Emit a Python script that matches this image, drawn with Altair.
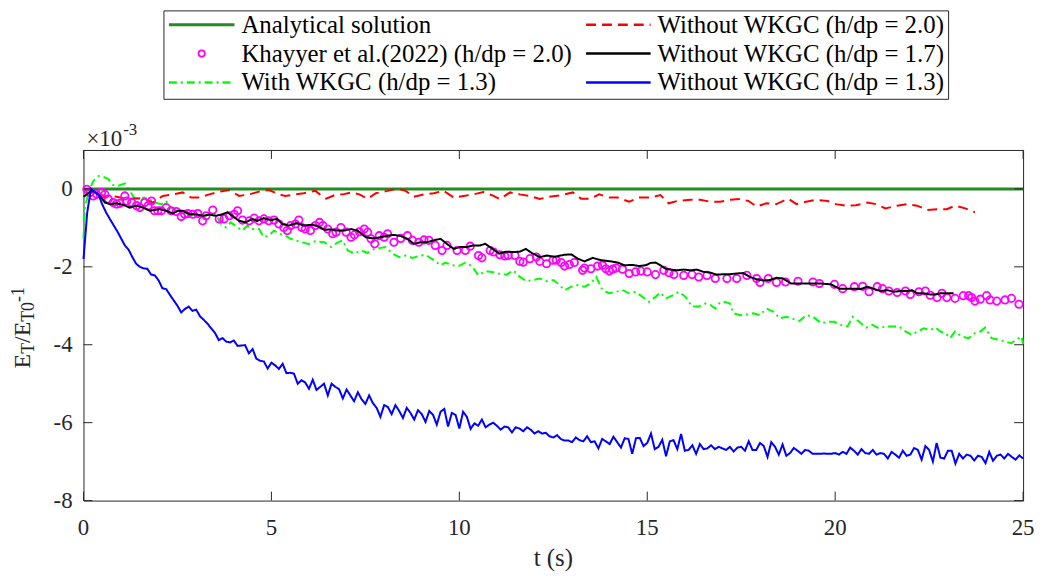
import altair as alt
import pandas as pd

# ---------------- series names ----------------
S_AN = "Analytical solution"
S_KH = "Khayyer et al.(2022) (h/dp = 2.0)"
S_W13 = "With WKGC (h/dp = 1.3)"
S_N20 = "Without WKGC (h/dp = 2.0)"
S_N17 = "Without WKGC (h/dp = 1.7)"
S_N13 = "Without WKGC (h/dp = 1.3)"

# legend is filled column by column (3 rows x 2 columns)
legend_order = [S_AN, S_KH, S_W13, S_N20, S_N17, S_N13]
legend_colors = ["#228B22", "#FF00FF", "#00FF00", "#FF0000", "#000000", "#0000FF"]
legend_dashes = [[1, 0], [1, 0], [8, 4, 2, 4], [10, 6], [1, 0], [1, 0]]
legend_shapes = ["stroke", "circle", "stroke", "stroke", "stroke", "stroke"]
legend_widths = [3, 1.8, 2.5, 2.5, 2.5, 2.5]

x_ticks = [0, 5, 10, 15, 20, 25]
y_ticks = [-8, -6, -4, -2, 0]
x_tick_labels = [str(v) for v in x_ticks]
y_tick_labels = [str(v) for v in y_ticks]

# ---------------- data (values x 1e-3) ----------------
analytical_t = [0.0, 25.0]
analytical_y = [0.0, 0.0]

black_t = [0.00, 0.09, 0.22, 0.31, 0.44, 0.57, 0.70, 0.88, 1.06, 1.23,
           1.41, 1.59, 1.76, 1.89, 2.03, 2.20, 2.38, 2.51, 2.64, 2.82,
           3.00, 3.17, 3.35, 3.52, 3.70, 3.83, 3.96, 4.14, 4.32, 4.49,
           4.63, 4.80, 4.98, 5.15, 5.29, 5.46, 5.68, 5.86, 6.08, 6.24,
           6.41, 6.59, 6.77, 6.94, 7.12, 7.29, 7.51, 7.69, 7.91, 8.09,
           8.26, 8.44, 8.62, 8.79, 8.97, 9.14, 9.32, 9.50, 9.67, 9.85,
           10.03, 10.20, 10.38, 10.55, 10.69, 10.86, 11.06, 11.26, 11.44, 11.61,
           11.77, 11.92, 12.14, 12.32, 12.54, 12.80, 12.98, 13.15, 13.33, 13.55,
           13.77, 14.03, 14.21, 14.39, 14.61, 14.78, 14.96, 15.09, 15.22, 15.35,
           15.49, 15.62, 15.80, 15.97, 16.15, 16.32, 16.50, 16.68, 16.85, 17.03,
           17.20, 17.38, 17.56, 17.73, 17.91, 18.09, 18.26, 18.44, 18.61, 18.83,
           19.10, 19.36, 19.63, 19.89, 20.11, 20.29, 20.51, 20.68, 20.86, 21.04,
           21.21, 21.39, 21.56, 21.74, 21.92, 22.05, 22.18, 22.36, 22.53, 22.67,
           22.80, 22.97, 23.15]
black_y = [-0.20, -0.14, -0.05, -0.08, -0.18, -0.35, -0.39, -0.37, -0.41, -0.48,
           -0.43, -0.48, -0.56, -0.54, -0.52, -0.56, -0.63, -0.56, -0.56, -0.65,
           -0.65, -0.69, -0.66, -0.69, -0.65, -0.60, -0.69, -0.82, -0.86, -0.77,
           -0.82, -0.75, -0.80, -0.77, -0.90, -0.94, -0.88, -0.94, -0.92, -0.96,
           -1.05, -1.04, -1.07, -1.07, -1.03, -1.07, -1.24, -1.27, -1.24, -1.20,
           -1.18, -1.21, -1.28, -1.41, -1.37, -1.37, -1.32, -1.28, -1.41, -1.54,
           -1.49, -1.49, -1.45, -1.45, -1.41, -1.52, -1.66, -1.61, -1.62, -1.61,
           -1.54, -1.64, -1.75, -1.71, -1.74, -1.69, -1.68, -1.79, -1.86, -1.77,
           -1.83, -1.86, -1.89, -1.96, -1.95, -1.98, -1.96, -1.90, -1.89, -1.96,
           -2.05, -2.07, -2.09, -2.07, -2.09, -2.07, -2.13, -2.15, -2.20, -2.19,
           -2.19, -2.17, -2.16, -2.26, -2.32, -2.35, -2.34, -2.28, -2.30, -2.43,
           -2.43, -2.43, -2.43, -2.45, -2.56, -2.56, -2.56, -2.57, -2.51, -2.57,
           -2.62, -2.60, -2.64, -2.62, -2.62, -2.60, -2.68, -2.68, -2.71, -2.71,
           -2.68, -2.68, -2.68]

khayyer_t = [0.09, 0.18, 0.26, 0.35, 0.48, 0.57, 0.66, 0.79, 0.88, 0.97,
             1.10, 1.15, 1.28, 1.41, 1.50, 1.63, 1.72, 1.81, 1.89, 1.98,
             2.07, 2.20, 2.33, 2.47, 2.60, 2.69, 2.78, 2.91, 3.04, 3.17,
             3.26, 3.44, 3.61, 3.74, 3.88, 4.01, 4.10, 4.23, 4.41, 4.54,
             4.67, 4.80, 4.93, 5.07, 5.20, 5.33, 5.42, 5.51, 5.64, 5.73,
             5.81, 5.90, 6.04, 6.17, 6.28, 6.37, 6.50, 6.63, 6.72, 6.85,
             6.99, 7.12, 7.21, 7.34, 7.47, 7.56, 7.65, 7.75, 7.87, 8.00,
             8.09, 8.26, 8.44, 8.62, 8.75, 8.92, 9.06, 9.19, 9.36, 9.54,
             9.67, 9.94, 10.16, 10.29, 10.51, 10.60, 10.82, 10.91, 11.08, 11.21,
             11.30, 11.48, 11.61, 11.70, 11.88, 12.05, 12.14, 12.32, 12.49, 12.58,
             12.71, 12.80, 12.93, 13.06, 13.28, 13.33, 13.50, 13.68, 13.81, 13.90,
             13.99, 14.08, 14.17, 14.34, 14.52, 14.69, 14.83, 15.00, 15.22, 15.44,
             15.58, 15.71, 15.97, 16.19, 16.37, 16.59, 16.81, 17.12, 17.38, 17.65,
             17.91, 18.00, 18.22, 18.44, 18.68, 19.01, 19.41, 19.58, 19.98, 20.20,
             20.51, 20.73, 20.90, 21.12, 21.26, 21.43, 21.65, 21.87, 22.00, 22.23,
             22.40, 22.53, 22.71, 22.84, 22.97, 23.19, 23.41, 23.55, 23.63, 23.72,
             23.86, 24.03, 24.12, 24.30, 24.52, 24.69, 24.89]
khayyer_y = [-0.01, -0.09, -0.18, -0.14, -0.09, -0.14, -0.26, -0.35, -0.39, -0.37,
             -0.18, -0.31, -0.35, -0.43, -0.48, -0.35, -0.43, -0.31, -0.56, -0.56,
             -0.56, -0.48, -0.56, -0.58, -0.71, -0.65, -0.63, -0.65, -0.63, -0.82,
             -0.69, -0.54, -0.77, -0.77, -0.69, -0.65, -0.56, -0.80, -0.82, -0.75,
             -0.82, -0.77, -0.82, -0.80, -0.90, -0.99, -1.07, -0.94, -0.90, -0.80,
             -0.99, -1.03, -1.07, -0.94, -0.86, -0.94, -1.03, -1.15, -1.11, -0.99,
             -1.11, -1.24, -1.18, -1.10, -1.03, -1.11, -1.28, -1.41, -1.20, -1.24,
             -1.15, -1.37, -1.27, -1.20, -1.32, -1.37, -1.31, -1.32, -1.45, -1.58,
             -1.45, -1.58, -1.58, -1.47, -1.71, -1.77, -1.58, -1.62, -1.69, -1.72,
             -1.71, -1.71, -1.86, -1.88, -1.79, -1.75, -1.86, -1.92, -1.83, -1.83,
             -1.89, -1.98, -1.94, -1.89, -2.09, -2.03, -2.05, -1.98, -1.96, -2.05,
             -2.11, -2.06, -2.03, -2.06, -2.17, -2.13, -2.11, -2.13, -2.20, -2.09,
             -2.15, -2.20, -2.22, -2.20, -2.26, -2.22, -2.30, -2.30, -2.30, -2.22,
             -2.30, -2.40, -2.30, -2.40, -2.39, -2.37, -2.39, -2.43, -2.45, -2.56,
             -2.51, -2.50, -2.64, -2.51, -2.56, -2.62, -2.66, -2.62, -2.71, -2.64,
             -2.62, -2.73, -2.79, -2.68, -2.79, -2.81, -2.74, -2.74, -2.79, -2.88,
             -2.83, -2.74, -2.85, -2.88, -2.85, -2.81, -2.96]

red_t = [0.04, 0.18, 0.53, 0.88, 1.15, 1.41, 1.63, 1.85, 2.11, 2.38,
         2.64, 2.86, 3.08, 3.35, 3.61, 3.88, 4.14, 4.41, 4.67, 4.93,
         5.20, 5.37, 5.64, 5.86, 6.17, 6.34, 6.46, 6.68, 6.90, 7.12,
         7.34, 7.56, 7.78, 8.09, 8.35, 8.57, 8.79, 9.06, 9.32, 9.58,
         9.85, 10.11, 10.38, 10.64, 10.91, 11.08, 11.35, 11.61, 11.88, 12.14,
         12.40, 12.71, 13.02, 13.24, 13.50, 13.72, 13.99, 14.21, 14.52, 14.78,
         15.09, 15.35, 15.57, 15.80, 16.15, 16.41, 16.68, 16.94, 17.20, 17.47,
         17.69, 17.91, 18.17, 18.44, 18.75, 18.97, 19.23, 19.49, 19.80, 20.02,
         20.29, 20.55, 20.86, 21.08, 21.34, 21.65, 21.92, 22.18, 22.45, 22.71,
         22.97, 23.19, 23.46, 23.72]
red_y = [-0.05, 0.00, -0.18, -0.20, -0.26, -0.24, -0.26, -0.35, -0.18, -0.14,
         -0.09, -0.22, -0.22, -0.14, -0.07, -0.03, -0.18, -0.14, -0.07, -0.03,
         -0.14, -0.18, -0.14, -0.11, -0.05, -0.18, -0.25, -0.16, -0.14, -0.09,
         -0.14, -0.25, -0.11, -0.05, 0.01, -0.05, -0.20, -0.14, -0.11, -0.05,
         -0.22, -0.18, -0.14, -0.08, -0.18, -0.26, -0.09, -0.14, -0.18, -0.26,
         -0.20, -0.16, -0.09, -0.25, -0.25, -0.14, -0.22, -0.22, -0.33, -0.22,
         -0.22, -0.16, -0.37, -0.31, -0.28, -0.28, -0.33, -0.33, -0.28, -0.26,
         -0.31, -0.45, -0.37, -0.39, -0.25, -0.39, -0.33, -0.28, -0.31, -0.39,
         -0.43, -0.42, -0.35, -0.39, -0.50, -0.43, -0.39, -0.43, -0.54, -0.52,
         -0.52, -0.43, -0.50, -0.60]

green_t = [0.00, 0.04, 0.13, 0.26, 0.40, 0.53, 0.66, 0.79, 0.93, 1.10,
           1.23, 1.37, 1.50, 1.59, 1.72, 1.89, 2.07, 2.20, 2.33, 2.51,
           2.64, 2.82, 2.95, 3.08, 3.26, 3.39, 3.52, 3.66, 3.79, 3.92,
           4.10, 4.23, 4.36, 4.49, 4.67, 4.80, 4.93, 5.07, 5.20, 5.37,
           5.51, 5.64, 5.81, 5.99, 6.17, 6.41, 6.59, 6.77, 6.90, 7.03,
           7.21, 7.38, 7.56, 7.74, 7.87, 8.04, 8.22, 8.40, 8.57, 8.75,
           8.97, 9.10, 9.32, 9.50, 9.63, 9.81, 9.98, 10.16, 10.33, 10.51,
           10.69, 10.86, 11.04, 11.26, 11.44, 11.61, 11.79, 11.96, 12.14, 12.32,
           12.50, 12.62, 12.80, 12.98, 13.15, 13.33, 13.50, 13.64, 13.81, 13.99,
           14.17, 14.34, 14.52, 14.69, 14.87, 15.05, 15.22, 15.35, 15.49, 15.66,
           15.84, 16.02, 16.19, 16.37, 16.54, 16.68, 16.81, 16.94, 17.07, 17.20,
           17.29, 17.47, 17.65, 17.82, 18.00, 18.17, 18.35, 18.53, 18.70, 18.83,
           19.05, 19.23, 19.41, 19.63, 19.80, 19.98, 20.15, 20.33, 20.46, 20.64,
           20.82, 20.99, 21.17, 21.34, 21.52, 21.70, 21.87, 22.05, 22.18, 22.36,
           22.53, 22.67, 22.80, 22.93, 23.06, 23.19, 23.37, 23.55, 23.72, 23.86,
           23.99, 24.16, 24.34, 24.52, 24.69, 24.82, 24.96, 25.00]
green_y = [-1.28, -0.48, -0.09, 0.20, 0.33, 0.31, 0.25, 0.10, 0.08, 0.14,
           -0.05, -0.26, -0.39, -0.22, -0.24, -0.35, -0.39, -0.31, -0.48, -0.56,
           -0.60, -0.65, -0.69, -0.69, -0.69, -0.60, -0.65, -0.90, -0.99, -0.86,
           -0.99, -1.07, -0.94, -1.03, -1.03, -1.24, -1.20, -1.07, -1.15, -1.20,
           -1.28, -1.32, -1.37, -1.41, -1.34, -1.37, -1.49, -1.37, -1.32, -1.58,
           -1.66, -1.58, -1.64, -1.54, -1.52, -1.49, -1.66, -1.75, -1.71, -1.77,
           -1.71, -1.69, -1.83, -1.96, -1.89, -1.96, -1.98, -1.89, -1.98, -2.22,
           -2.11, -2.13, -2.17, -2.20, -2.09, -2.26, -2.37, -2.34, -2.30, -2.37,
           -2.34, -2.43, -2.60, -2.51, -2.47, -2.51, -2.43, -2.26, -2.60, -2.68,
           -2.64, -2.60, -2.68, -2.64, -2.77, -2.90, -2.77, -2.66, -2.81, -2.74,
           -2.64, -2.77, -3.02, -3.02, -2.94, -2.98, -3.07, -2.91, -2.90, -2.94,
           -3.19, -3.24, -3.22, -3.19, -3.24, -3.07, -3.15, -3.32, -3.28, -3.32,
           -3.39, -3.24, -3.28, -3.45, -3.41, -3.41, -3.49, -3.53, -3.28, -3.41,
           -3.56, -3.49, -3.58, -3.53, -3.53, -3.53, -3.66, -3.75, -3.66, -3.58,
           -3.62, -3.56, -3.66, -3.70, -3.83, -3.66, -3.79, -3.83, -3.70, -3.66,
           -3.56, -3.83, -3.87, -3.92, -3.96, -3.87, -3.79, -3.98]

blue_dt = 0.1
blue_y = [-1.80, -0.60, 0.00, -0.08, -0.14, -0.40, -0.60, -0.77, -0.93, -1.09,
          -1.27, -1.45, -1.56, -1.75, -1.92, -2.00, -2.04, -2.05, -2.20, -2.22,
          -2.35, -2.55, -2.57, -2.72, -2.86, -3.00, -3.17, -3.08, -3.02, -3.13,
          -3.10, -3.27, -3.36, -3.46, -3.58, -3.70, -3.88, -3.83, -3.92, -3.94,
          -3.89, -4.03, -4.02, -4.01, -4.22, -4.11, -4.36, -4.41, -4.43, -4.61,
          -4.46, -4.53, -4.62, -4.49, -4.73, -4.72, -4.74, -5.00, -4.91, -4.97,
          -5.13, -4.90, -5.16, -5.08, -5.00, -5.30, -5.00, -5.08, -5.14, -5.38,
          -5.15, -5.30, -5.45, -5.22, -5.40, -5.52, -5.30, -5.50, -5.62, -5.85,
          -5.55, -5.60, -5.78, -5.55, -5.70, -5.88, -5.62, -5.75, -5.92, -5.68,
          -5.78, -5.98, -5.70, -5.80, -6.05, -5.72, -5.65, -6.10, -5.75, -5.80,
          -6.15, -5.72, -5.85, -6.16, -6.02, -6.08, -5.92, -6.12, -6.05, -6.00,
          -6.08, -6.18, -6.10, -6.12, -6.25, -6.12, -6.15, -6.22, -6.12, -6.18,
          -6.28, -6.22, -6.28, -6.26, -6.35, -6.38, -6.32, -6.42, -6.46, -6.46,
          -6.50, -6.38, -6.45, -6.48, -6.35, -6.50, -6.48, -6.66, -6.42, -6.48,
          -6.55, -6.36, -6.50, -6.64, -6.40, -6.42, -6.80, -6.40, -6.39, -6.60,
          -6.52, -6.28, -6.68, -6.62, -6.44, -6.86, -6.48, -6.45, -6.68, -6.29,
          -6.72, -6.70, -6.58, -6.80, -6.55, -6.68, -6.66, -6.58, -6.68, -6.62,
          -6.66, -6.70, -6.62, -6.74, -6.64, -6.62, -6.72, -6.48, -6.70, -6.70,
          -6.52, -6.60, -6.88, -6.50, -6.62, -6.82, -6.56, -6.85, -6.78, -6.65,
          -6.72, -6.80, -6.70, -6.72, -6.80, -6.80, -6.80, -6.79, -6.80, -6.80,
          -6.78, -6.82, -6.75, -6.80, -6.64, -6.72, -6.82, -6.68, -6.78, -6.80,
          -6.70, -6.82, -6.78, -6.80, -6.92, -6.75, -6.82, -6.90, -6.72, -6.85,
          -6.82, -6.65, -6.70, -6.95, -6.60, -6.70, -7.00, -6.52, -6.90, -6.92,
          -6.72, -6.72, -7.05, -6.80, -6.92, -6.82, -6.85, -6.97, -6.85, -6.88,
          -7.04, -6.75, -6.98, -6.85, -6.82, -6.92, -6.80, -6.88, -6.95, -6.84,
          -6.92]
blue_t = [round(i * blue_dt, 2) for i in range(len(blue_y))]


def frame(ts, ys, name):
    return pd.DataFrame({"t": ts, "y": ys, "series": name})


df_an = frame(analytical_t, analytical_y, S_AN)
df_kh = frame(khayyer_t, khayyer_y, S_KH)
df_w13 = frame(green_t, green_y, S_W13)
df_n20 = frame(red_t, red_y, S_N20)
df_n17 = frame(black_t, black_y, S_N17)
df_n13 = frame(blue_t, blue_y, S_N13)

# ---------------- styling ----------------
W, H = 946, 353
FONT = "Liberation Serif"
AX = "#262626"

xs = alt.Scale(domain=[0, 25], nice=False, zero=False)
ys = alt.Scale(domain=[-8, 1], nice=False, zero=False)
cs = alt.Scale(domain=legend_order, range=legend_colors)
ds = alt.Scale(domain=legend_order, range=legend_dashes)


def xy():
    return dict(x=alt.X("t:Q", scale=xs, axis=None), y=alt.Y("y:Q", scale=ys, axis=None))


def line_layer(df, width):
    return alt.Chart(df).mark_line(strokeWidth=width).encode(
        color=alt.Color("series:N", scale=cs, legend=None),
        strokeDash=alt.StrokeDash("series:N", scale=ds, legend=None),
        **xy(),
    )


green = line_layer(df_w13, 2)
analytic = line_layer(df_an, 3)
red = line_layer(df_n20, 2)
black = line_layer(df_n17, 2)
blue = line_layer(df_n13, 2)
circles = alt.Chart(df_kh).mark_point(shape="circle", filled=False, size=55, strokeWidth=1.8,
                                      opacity=1).encode(
    color=alt.Color("series:N", scale=cs, legend=None),
    **xy(),
)

# inward tick marks on all four sides
xt = pd.DataFrame({"t": x_ticks, "lab": x_tick_labels})
yt = pd.DataFrame({"y": y_ticks, "lab": y_tick_labels})
TL = 9
xtick_b = alt.Chart(xt).mark_rule(color=AX, strokeWidth=1).encode(
    x=alt.X("t:Q", scale=xs, axis=None), y=alt.value(H), y2=alt.value(H - TL))
xtick_t = alt.Chart(xt).mark_rule(color=AX, strokeWidth=1).encode(
    x=alt.X("t:Q", scale=xs, axis=None), y=alt.value(0), y2=alt.value(TL))
ytick_l = alt.Chart(yt).mark_rule(color=AX, strokeWidth=1).encode(
    y=alt.Y("y:Q", scale=ys, axis=None), x=alt.value(0), x2=alt.value(TL))
ytick_r = alt.Chart(yt).mark_rule(color=AX, strokeWidth=1).encode(
    y=alt.Y("y:Q", scale=ys, axis=None), x=alt.value(W), x2=alt.value(W - TL))

# tick labels and axis title (serif)
xlabels = alt.Chart(xt).mark_text(font=FONT, fontSize=23, align="center",
                                  baseline="alphabetic", color=AX).encode(
    x=alt.X("t:Q", scale=xs, axis=None), y=alt.value(H + 35), text="lab:N")
ylabels = alt.Chart(yt).mark_text(font=FONT, fontSize=23, align="right",
                                  baseline="middle", color=AX).encode(
    y=alt.Y("y:Q", scale=ys, axis=None), x=alt.value(-11), text="lab:N")
xtitle = alt.Chart(pd.DataFrame({"s": ["t (s)"]})).mark_text(
    font=FONT, fontSize=25, align="center", baseline="alphabetic", color=AX
).encode(text="s:N", x=alt.value(W / 2), y=alt.value(H + 66))

# exponent label  x10^-3
exp_base = alt.Chart(pd.DataFrame({"s": ["\u00d710"]})).mark_text(
    font=FONT, fontSize=23, align="left", baseline="alphabetic", color=AX
).encode(text="s:N", x=alt.value(3), y=alt.value(-4))
exp_sup = alt.Chart(pd.DataFrame({"s": ["-3"]})).mark_text(
    font=FONT, fontSize=17, align="left", baseline="alphabetic", color=AX
).encode(text="s:N", x=alt.value(40), y=alt.value(-15))

# y-axis title  E_T / E_T0 ^-1 (rotated, sub/superscripts)
ytitle_parts = [("E", 24, 0.0, 0), ("T", 18, 14.7, 4), ("/E", 24, 25.7, 0),
                ("T0", 18, 47.0, 4), ("-1", 18, 67.0, -6)]
Y0 = 220
XB = -54
ytitle_layers = []
for txt, fs, along, shift in ytitle_parts:
    ytitle_layers.append(
        alt.Chart(pd.DataFrame({"s": [txt]})).mark_text(
            font=FONT, fontSize=fs, align="left", baseline="alphabetic", angle=270, color=AX
        ).encode(text="s:N", x=alt.value(XB + shift), y=alt.value(Y0 - along))
    )

# legend box (2 columns x 3 rows), drawn above the plot
dummy = pd.DataFrame({"k": [0]})
col_sym_x = [(86, 152), (506, 571)]
col_lab_x = [159, 578]
row_y = [-126, -97, -68]
legend_layers = [alt.Chart(dummy).mark_rect(fill="white", stroke=AX, strokeWidth=1).encode(
    x=alt.value(81), x2=alt.value(871), y=alt.value(-140), y2=alt.value(-51))]
for i, (name, colr, dash, shp, lw) in enumerate(
        zip(legend_order, legend_colors, legend_dashes, legend_shapes, legend_widths)):
    c, r = i // 3, i % 3
    x1, x2 = col_sym_x[c]
    yy = row_y[r]
    if shp == "circle":
        legend_layers.append(alt.Chart(dummy).mark_point(
            shape="circle", filled=False, color=colr, size=40, strokeWidth=lw, opacity=1
        ).encode(x=alt.value((x1 + x2) / 2), y=alt.value(yy)))
    else:
        legend_layers.append(alt.Chart(dummy).mark_rule(
            color=colr, strokeWidth=lw, strokeDash=dash
        ).encode(x=alt.value(x1), x2=alt.value(x2), y=alt.value(yy)))
    legend_layers.append(alt.Chart(pd.DataFrame({"s": [name]})).mark_text(
        font=FONT, fontSize=25, align="left", baseline="middle", color="black"
    ).encode(text="s:N", x=alt.value(col_lab_x[c]), y=alt.value(yy)))

chart = alt.layer(
    green, analytic, red, circles, black, blue,
    xtick_b, xtick_t, ytick_l, ytick_r, xlabels, ylabels, xtitle,
    exp_base, exp_sup, *ytitle_layers, *legend_layers
).properties(
    width=W, height=H,
    autosize=alt.AutoSizeParams(type="none"),
    padding={"left": 76, "top": 141, "right": 14, "bottom": 72},
    background="white",
).configure(
    font=FONT
).configure_view(
    stroke=AX, strokeWidth=1
)

chart.save("out.html", embed_options={"renderer": "svg", "actions": False})
